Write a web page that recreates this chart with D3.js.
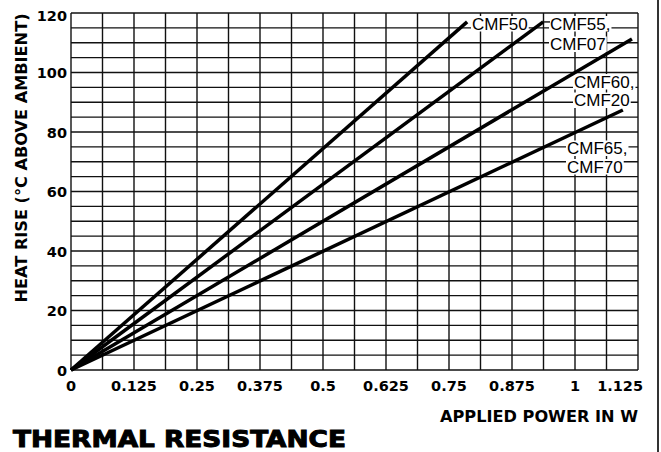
<!DOCTYPE html>
<html>
<head>
<meta charset="utf-8">
<script src="https://cdn.jsdelivr.net/npm/d3@7"></script>
<style>
  body { margin: 0; background: #fff; }
  svg { display: block; }
</style>
</head>
<body>
<svg id="chart" width="661" height="452"></svg>
<script>
// data
const series = ["CMF50", "CMF55", "CMF60", "CMF65"];
const endPower = [0.786, 0.937, 1.113, 1.095]; // W
const endRise = [117, 117, 111.3, 87.4];        // deg C
const xTicks = [0, 0.125, 0.25, 0.375, 0.5, 0.625, 0.75, 0.875, 1, 1.125];
const yTicks = [0, 20, 40, 60, 80, 100, 120];
const labels = [
  ["CMF50"],
  ["CMF55,", "CMF07"],
  ["CMF60,", "CMF20"],
  ["CMF65,", "CMF70"]
];

const svg = d3.select("#chart");
const plotLeft = 71, plotRight = 638, plotTop = 13, plotBottom = 370;

const x = d3.scaleLinear().domain([0, 1.125]).range([plotLeft, plotRight]);
const y = d3.scaleLinear().domain([0, 120]).range([plotBottom, plotTop]);

// grid
const grid = svg.append("g").attr("stroke", "#111").attr("stroke-width", 1.4);
grid.selectAll("line.v")
  .data(d3.range(0, 19).map((i) => i * 0.0625))
  .join("line")
  .attr("class", "v")
  .attr("x1", (d) => x(d)).attr("x2", (d) => x(d))
  .attr("y1", y(0)).attr("y2", y(120));
grid.selectAll("line.h")
  .data(d3.range(0, 25).map((i) => i * 5))
  .join("line")
  .attr("class", "h")
  .attr("y1", (d) => y(d)).attr("y2", (d) => y(d))
  .attr("x1", x(0)).attr("x2", x(1.125));

// axis labels
const tickFont = "'DejaVu Sans', sans-serif";
svg.append("g")
  .selectAll("text")
  .data(yTicks)
  .join("text")
  .attr("x", 67)
  .attr("y", (d) => (d === 120 ? y(d) + 8 : y(d) + 5.5))
  .attr("text-anchor", "end")
  .attr("font-family", tickFont)
  .attr("font-weight", "bold")
  .attr("font-size", 14.5)
  .text((d) => d);

svg.append("g")
  .selectAll("text")
  .data(xTicks)
  .join("text")
  .attr("x", (d) => (d === 1.125 ? 643 : x(d)))
  .attr("y", 391)
  .attr("text-anchor", (d) => (d === 1.125 ? "end" : "middle"))
  .attr("font-family", tickFont)
  .attr("font-weight", "bold")
  .attr("font-size", 14.5)
  .text((d) => d3.format("")(d));

svg.append("text")
  .attr("transform", "translate(27,158) rotate(-90)")
  .attr("text-anchor", "middle")
  .attr("font-family", tickFont)
  .attr("font-weight", "bold")
  .attr("font-size", 15)
  .attr("textLength", 289)
  .attr("lengthAdjust", "spacingAndGlyphs")
  .text("HEAT RISE (°C ABOVE AMBIENT)");

svg.append("text")
  .attr("x", 638)
  .attr("y", 422)
  .attr("text-anchor", "end")
  .attr("font-family", tickFont)
  .attr("font-weight", "bold")
  .attr("font-size", 15)
  .attr("textLength", 198)
  .attr("lengthAdjust", "spacingAndGlyphs")
  .text("APPLIED POWER IN W");

// curve labels with white boxes over the grid
const labelPos = [
  { x: 472, y: [29.5] },
  { x: 550, y: [29.5, 50] },
  { x: 574, y: [87.5, 106] },
  { x: 567, y: [154, 172.5] }
];
const boxes = svg.append("g");
const lab = svg.append("g");
labels.forEach((lines, i) => {
  const txt = lab.append("text")
    .attr("font-family", "'Liberation Sans', Arial, sans-serif")
    .attr("font-size", 17);
  lines.forEach((t, j) => {
    const by = labelPos[i].y[j];
    const ts = txt.append("tspan")
      .attr("x", labelPos[i].x)
      .attr("y", by)
      .text(t);
    let w = ts.node().getComputedTextLength();
    if (!(w > 5)) w = t.length * 9.5;
    boxes.append("rect")
      .attr("x", labelPos[i].x - 1)
      .attr("y", by - 13.5)
      .attr("width", w + 2)
      .attr("height", 15.5)
      .attr("fill", "#fff");
  });
});

// leader for CMF55 label
svg.append("line")
  .attr("x1", x(endPower[1])).attr("y1", y(endRise[1]))
  .attr("x2", 550).attr("y2", y(endRise[1]))
  .attr("stroke", "#111").attr("stroke-width", 1.4);

// series lines
const line = d3.line().x((d) => x(d[0])).y((d) => y(d[1]));
svg.append("g")
  .selectAll("path")
  .data(series.map((s, i) => [[0, 0], [endPower[i], endRise[i]]]))
  .join("path")
  .attr("d", line)
  .attr("fill", "none")
  .attr("stroke", "#000")
  .attr("stroke-width", 3.5);

// title
svg.append("text")
  .attr("x", 13)
  .attr("y", 447)
  .attr("font-family", tickFont)
  .attr("font-weight", "bold")
  .attr("font-size", 23)
  .attr("stroke", "#000")
  .attr("stroke-width", 1)
  .attr("textLength", 333)
  .attr("lengthAdjust", "spacingAndGlyphs")
  .text("THERMAL RESISTANCE");

// right frame line
svg.append("line")
  .attr("x1", 658).attr("x2", 658)
  .attr("y1", 0).attr("y2", 452)
  .attr("stroke", "#333").attr("stroke-width", 2);
</script>
</body>
</html>
